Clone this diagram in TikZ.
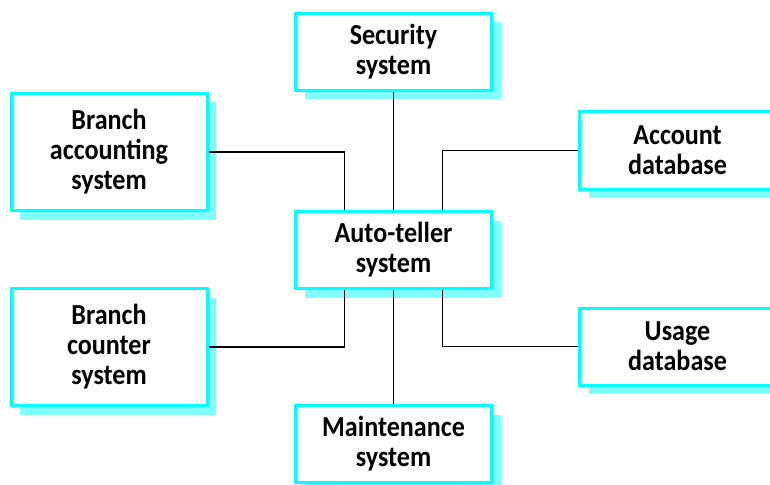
\documentclass[tikz,border=0pt]{standalone}
\usepackage{fontspec}
\setmainfont{Carlito}[FakeStretch=0.9]
\usetikzlibrary{shadows}
\definecolor{boxcyan}{RGB}{0,255,255}
\definecolor{shadowcyan}{RGB}{128,255,255}
\tikzset{
  sysbox/.style={draw=boxcyan, line width=3pt, fill=white, align=center,
    minimum width=196pt, minimum height=77pt, inner sep=0pt,
    font=\fontsize{29}{30}\selectfont\bfseries,
    general shadow={fill=shadowcyan, shadow xshift=9pt, shadow yshift=-9pt}},
  tallbox/.style={sysbox, minimum height=117pt},
  link/.style={draw=black, line width=1.2pt}
}
\begin{document}
\begin{tikzpicture}[x=1pt,y=-1pt]
\useasboundingbox (0,0) rectangle (770,484);
\node[sysbox]  (sec) at (393.5,52)  {Security\\system};
\node[tallbox] (bas) at (109,152)   {Branch\\accounting\\system};
\node[sysbox]  (acc) at (677.5,150.5) {Account\\database};
\node[sysbox]  (ats) at (393.5,250) {Auto-teller\\system};
\node[tallbox] (bcs) at (109,347)   {Branch\\counter\\system};
\node[sysbox]  (usg) at (677.5,346.5) {Usage\\database};
\node[sysbox]  (mnt) at (393.5,444) {Maintenance\\system};
\draw[link] (sec) -- (ats);
\draw[link] (ats) -- (mnt);
\draw[link] (bas.east) -| ([xshift=-49pt]ats.north);
\draw[link] (acc.west) -| ([xshift=49pt]ats.north);
\draw[link] (bcs.east) -| ([xshift=-49pt]ats.south);
\draw[link] (usg.west) -| ([xshift=49pt]ats.south);
\end{tikzpicture}
\end{document}
